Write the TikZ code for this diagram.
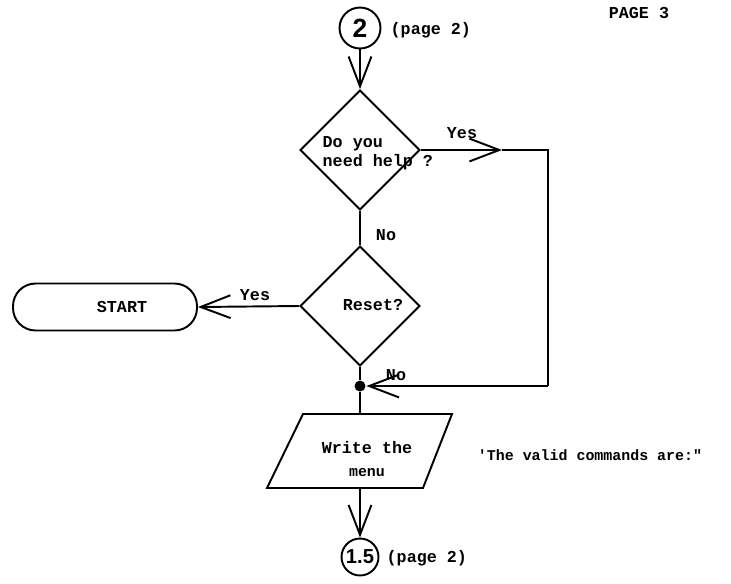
\documentclass[tikz,border=0pt]{standalone}
\usepackage{fontspec}
\setmonofont{Liberation Mono}
\setsansfont{Liberation Sans}
\usetikzlibrary{shapes.geometric,arrows.meta}

\begin{document}
\begin{tikzpicture}[x=0.02cm, y=-0.02cm, line width=1.1pt,
  arr/.style={-{Straight Barb[length=17pt, width=13pt]}},
  txt/.style={font=\ttfamily\bfseries\fontsize{9.5}{11}\selectfont, inner sep=1pt}]
  \tikzset{sm/.style={txt, font=\ttfamily\bfseries\fontsize{8.5}{10}\selectfont}}
  \tikzset{dec/.style={diamond, draw, aspect=1, minimum size=2.4cm, inner sep=0pt}}
  \tikzset{conn/.style={circle, draw, inner sep=0pt, font=\sffamily\bfseries\fontsize{15}{15}\selectfont}}
  \tikzset{term/.style={rectangle, draw, rounded corners=0.45cm, minimum width=3.68cm, minimum height=0.94cm}}
  \tikzset{jn/.style={circle, fill, inner sep=0pt, minimum size=0.22cm}}
  \useasboundingbox (0,0) rectangle (731,583);
  % Nodes
  \node[conn, minimum size=0.82cm] (c2) at (360,28) {2};
  \node[txt, anchor=west] (p2a) at (388,30) {(page 2)};
  \node[txt] (pg3) at (639,13) {PAGE 3};
  \node[dec] (help) at (360,150) {};
  \node[txt, align=left, anchor=west] (helpt) at (320,153) {Do you\\need help ?};
  \node[dec] (reset) at (360,306) {};
  \node[txt] (resett) at (373,305) {Reset?};
  \node[term] (start) at (105,307) {};
  \node[txt] (startt) at (122,307) {START};
  \node[jn] (dot) at (360,386) {};
  \node[txt, align=center, font=\ttfamily\bfseries\fontsize{9.5}{13.6}\selectfont] (menu) at (367,459)
    {Write the\\{\fontsize{8.5}{10}\selectfont menu}};
  \node[sm] (valid) at (590,455) {'The valid commands are:"};
  \node[conn, minimum size=0.74cm, font=\sffamily\bfseries\fontsize{11.5}{11.5}\selectfont] (c15) at (360,557) {1.5};
  \node[txt, anchor=west] (p2b) at (384,558) {(page 2)};
  % write the menu (parallelogram)
  \coordinate (mtl) at (303,414);
  \coordinate (mtr) at (452,414);
  \coordinate (mbr) at (423,488);
  \coordinate (mbl) at (267,488);
  \draw (mtl) -- (mtr) -- (mbr) -- (mbl) -- cycle;
  % help? yes / no
  \coordinate (ym) at (502,150);
  \coordinate (yr) at (548,150);
  \coordinate (yb) at (548,386);
  \draw[arr] (c2) -- (help.north);
  \draw[arr] (help.east) -- (ym);
  \draw (ym) -- (yr) -- (yb);
  \draw[arr] (yb) -- (dot);
  \node[txt] at (462,133) {Yes};
  \draw (help.south) -- (reset.north);
  \node[txt] at (386,235) {No};
  % reset? yes / no
  \draw[arr] (reset.west) -- (start.east);
  \node[txt] at (255,295) {Yes};
  \draw (reset.south) -- (dot);
  \node[txt] at (396,375) {No};
  % menu
  \draw (dot) -- (dot |- mtl);
  \draw[arr] (c15 |- mbl) -- (c15.north);
\end{tikzpicture}
\end{document}
